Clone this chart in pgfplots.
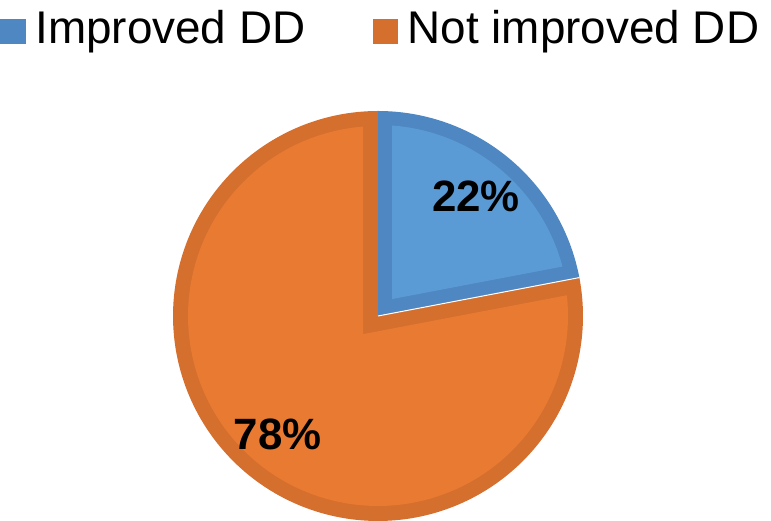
\documentclass[border=0pt]{standalone}
\usepackage{pgfplots}
\pgfplotsset{compat=1.18}
\usepackage{pgfplotstable}
\usepackage{fontspec}
\setmainfont{Liberation Sans}
\definecolor{blueL}{HTML}{5B9BD5}
\definecolor{blueD}{HTML}{4E87C1}
\definecolor{orangeL}{HTML}{E97A32}
\definecolor{orangeD}{HTML}{D56F2E}
\pgfplotstableread{
label value
Improved 22
NotImproved 78
}\piedata
\pgfplotstablegetelem{0}{value}\of\piedata \let\vA\pgfplotsretval
\pgfplotstablegetelem{1}{value}\of\piedata \let\vB\pgfplotsretval
\pgfmathsetmacro\R{205}
\pgfmathsetmacro\cx{378}
\pgfmathsetmacro\cy{205}
\pgfmathsetmacro\aA{90-3.6*\vA}
\pgfmathsetmacro\aB{90+3.6*\vB}
\pgfmathsetmacro\half{1.8*\vA}
% blue inset
\pgfmathsetmacro\dq{14/sin(\half)}
\pgfmathsetmacro\qx{\cx+\dq*cos(90-\half)}
\pgfmathsetmacro\qy{\cy+\dq*sin(90-\half)}
\pgfmathsetmacro\eB{asin(14/(\R-14))}
\pgfmathsetmacro\bs{\aA+\eB}
\pgfmathsetmacro\be{90-\eB}
\pgfmathsetmacro\rB{\R-14}
% orange inset
\pgfmathsetmacro\dpp{15/sin(\half)}
\pgfmathsetmacro\px{\cx+\dpp*cos(90+1.8*\vB)}
\pgfmathsetmacro\py{\cy+\dpp*sin(90+1.8*\vB)}
\pgfmathsetmacro\eO{asin(15/(\R-15))}
\pgfmathsetmacro\os{90+\eO}
\pgfmathsetmacro\oe{\aB-\eO}
\pgfmathsetmacro\rO{\R-15}
\pgfmathsetmacro\sx{\cx+\R*cos(\aA)}
\pgfmathsetmacro\sy{\cy+\R*sin(\aA)}
\begin{document}%
\begin{tikzpicture}
\begin{axis}[
  x=1bp, y=1bp, xmin=0, xmax=771, ymin=0, ymax=521,
  hide axis, clip=false,
  legend columns=2,
  legend style={at={(axis cs:0,512.5)}, anchor=north west, draw=none, fill=none,
    inner sep=0pt, outer sep=0pt,
    font=\fontsize{46}{50}\selectfont,
    cells={anchor=base west},
    /tikz/every odd column/.append style={column sep=8bp},
    /tikz/every even column/.append style={column sep=66bp}},
]
\addplot[draw=none, forget plot] coordinates {(0,0) (771,521)};
% orange slice
\addplot[fill=orangeD, draw=none, domain=90:\aB, samples=200, variable=\t, forget plot]
  ({\cx+\R*cos(\t)}, {\cy+\R*sin(\t)}) -- (axis cs:\cx,\cy) -- cycle;
\addplot[fill=orangeL, draw=none, domain=\os:\oe, samples=200, variable=\t, forget plot]
  ({\cx+\rO*cos(\t)}, {\cy+\rO*sin(\t)}) -- (axis cs:\px,\py) -- cycle;
% blue slice
\addplot[fill=blueD, draw=none, domain=\aA:90, samples=80, variable=\t, forget plot]
  ({\cx+\R*cos(\t)}, {\cy+\R*sin(\t)}) -- (axis cs:\cx,\cy) -- cycle;
\addplot[fill=blueL, draw=none, domain=\bs:\be, samples=80, variable=\t, forget plot]
  ({\cx+\rB*cos(\t)}, {\cy+\rB*sin(\t)}) -- (axis cs:\qx,\qy) -- cycle;
\addplot[white, line width=1bp, forget plot] coordinates {(\cx,\cy) (\sx,\sy)};
% labels
\node[anchor=base, font=\bfseries\fontsize{44}{48}\selectfont] at (axis cs:476,309) {\vA\%};
\node[anchor=base, font=\bfseries\fontsize{44}{48}\selectfont] at (axis cs:277.5,71) {\vB\%};
% legend
\addlegendimage{legend image code/.code={\fill[blueD] (0bp,0bp) rectangle (25bp,24bp);}}
\addlegendentry{Improved DD}
\addlegendimage{legend image code/.code={\fill[orangeD] (0bp,0bp) rectangle (24bp,24bp);}}
\addlegendentry{Not improved DD}
\end{axis}
\end{tikzpicture}%
\end{document}
